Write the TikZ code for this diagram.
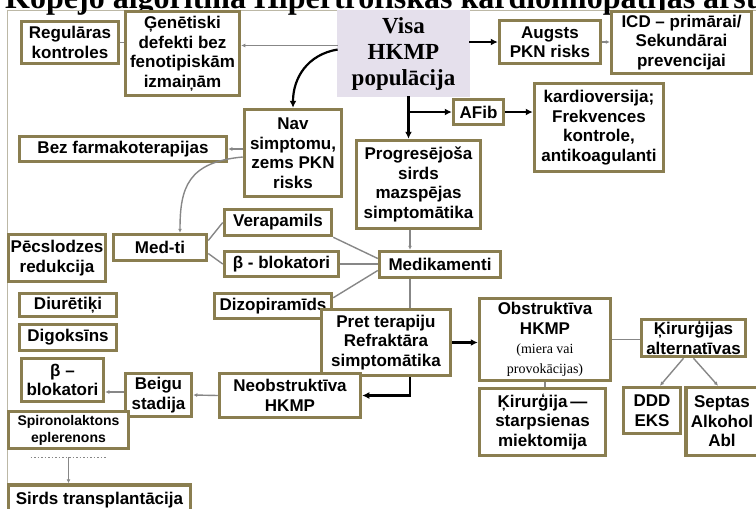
\documentclass[tikz,border=0pt]{standalone}
\usepackage{fontspec}
\setmainfont{Liberation Sans}
\newfontfamily\hkserif{Liberation Serif}
\usetikzlibrary{arrows.meta}
\definecolor{hkolive}{RGB}{138,126,80}
\definecolor{hklav}{RGB}{229,224,236}
\definecolor{hkframe}{RGB}{160,154,128}
\definecolor{hkline}{RGB}{135,135,135}
\newcommand{\hksmall}{\hkserif\mdseries\fontsize{14}{17}\selectfont}

\begin{document}
\begin{tikzpicture}[x=1pt,y=-1pt,
  box/.style={draw=hkolive,line width=3.5pt,fill=white,align=center,inner sep=1pt,
    font=\bfseries\fontsize{17}{19.5}\selectfont},
  visabox/.style={draw=hkframe,double=hklav,double distance=1.2pt,line width=0.8pt,
    fill=hklav,align=center,font=\hkserif\bfseries\fontsize{23}{26}\selectfont},
  greyline/.style={draw=hkline,line width=1.4pt},
  greyarrow/.style={greyline,-{Latex[length=4pt,width=4pt]}},
  blackarrow/.style={line width=2.2pt,-{Latex[length=7pt,width=7pt]}}]
  \useasboundingbox (0,0) rectangle (756,509);
  \clip (0,0) rectangle (756,509);
  \draw[hkframe!70,line width=0.6pt] (7,520) -- (7,10) -- (760,10);
  \node[anchor=base west,inner sep=0,font=\hkserif\bfseries\fontsize{32}{34}\selectfont] (title) at (5,8)
    {Kopējo algoritma Hipertrofiskās kardiomiopātijas ārst};

  \node[box,minimum width=97,minimum height=42] (reg) at (70,42.5) {Regulāras\\kontroles};
  \node[box,minimum width=114,minimum height=84] (gen) at (182.5,53.5) {Ģenētiski\\defekti bez\\fenotipiskām\\izmaiņām};
  \node[visabox,minimum width=131,minimum height=85] (visa) at (403.5,53.5) {Visa\\HKMP\\populācija};
  \node[box,minimum width=101,minimum height=43] (augsts) at (550,42) {Augsts\\PKN risks};
  \node[box,minimum width=140,minimum height=62] (icd) at (681.5,42.5) {ICD – primārai/\\Sekundārai\\prevencijai};
  \node[box,minimum width=97,minimum height=87] (nav) at (293,153) {Nav\\simptomu,\\zems PKN\\risks};
  \node[box,minimum width=207,minimum height=25] (bez) at (123,149) {Bez farmakoterapijas};
  \node[box,minimum width=50,minimum height=25] (afib) at (478.5,112) {AFib};
  \node[box,minimum width=129,minimum height=88] (kard) at (599,127.5) {kardioversija;\\Frekvences\\kontrole,\\antikoagulanti};
  \node[box,minimum width=124,minimum height=88] (prog) at (418.5,184.5) {Progresējoša\\sirds\\mazspējas\\simptomātika};
  \node[box,minimum width=121,minimum height=26] (medi) at (440,264.5) {Medikamenti};
  \node[box,minimum width=107,minimum height=26] (vera) at (278,222.5) {Verapamils};
  \node[box,minimum width=114,minimum height=25] (beta) at (281.5,264) {β - blokatori};
  \node[box,minimum width=93,minimum height=26] (medti) at (160,247.5) {Med-ti};
  \node[box,minimum width=97,minimum height=47] (pec) at (57,258) {Pēcslodzes\\redukcija};
  \node[box,minimum width=97,minimum height=23] (diur) at (68,305) {Diurētiķi};
  \node[box,minimum width=97,minimum height=26] (digo) at (68,337.5) {Digoksīns};
  \node[box,minimum width=117,minimum height=25] (dizo) at (273,306) {Dizopiramīds};
  \node[box,minimum width=129,minimum height=66] (pret) at (386,342.5) {Pret terapiju\\Refraktāra\\simptomātika};
  \node[box,minimum width=141,minimum height=44] (neob) at (290,395.5) {Neobstruktīva\\HKMP};
  \node[box,minimum width=66,minimum height=43] (beigu) at (158.5,395) {Beigu\\stadija};
  \node[box,minimum width=82,minimum height=43] (betal) at (62.5,380) {β –\\blokatori};
  \node[box,minimum width=120,minimum height=37,font=\bfseries\fontsize{14}{17}\selectfont] (spiro) at (68.5,430) {Spironolaktons\\eplerenons};
  \node[box,minimum width=182,minimum height=30] (sirds) at (99.5,500) {Sirds transplantācija};
  \node[box,minimum width=131,minimum height=82] (obst) at (545,339.5) {Obstruktīva\\HKMP\\{\hksmall (miera vai}\\{\hksmall provokācijas)}};
  \node[box,minimum width=126,minimum height=67] (kirurg) at (542.5,422) {Ķirurģija\,—\\starpsienas\\miektomija};
  \node[box,minimum width=104,minimum height=37] (alt) at (693.5,338) {Ķirurģijas\\alternatīvas};
  \node[box,minimum width=57,minimum height=46] (ddd) at (652,410.5) {DDD\\EKS};
  \node[box,minimum width=72,minimum height=68] (septas) at (722,421.5) {Septas\\Alkohol\\Abl};

  \coordinate (trunk) at ([xshift=5]visa.south);
  \coordinate (progout) at ([xshift=-8.5]prog.south);
  \coordinate (mediout) at ([xshift=-30]medi.south);
  \coordinate (beiguout) at ([yshift=3]beigu.west);
  \coordinate (dots) at ([yshift=-7]spiro.south);

  \draw[greyarrow] ([yshift=8]visa.west) -- ([yshift=8]gen.east);
  \draw[greyline] (reg.east) -- (reg.east -| gen.west);
  \draw[blackarrow] ([yshift=4]visa.west) .. controls +(-30,5) and +(0,-30) .. (nav.north);
  \draw[blackarrow] ([yshift=11.5]visa.east) -- (augsts.west);
  \draw[greyarrow] (augsts.east) -- (augsts.east -| icd.west);
  \draw[blackarrow] (trunk) -- (trunk |- prog.north);
  \draw[blackarrow] (trunk |- afib) -- (afib.west);
  \draw[blackarrow] (afib.east) -- (afib.east -| kard.west);
  \draw[greyarrow] ([yshift=4]nav.west) -- (bez.east);
  \draw[greyarrow] ([yshift=-4]nav.west) .. controls +(-55,5) and +(0,-45) .. ([xshift=20]medti.north);
  \draw[greyarrow] (progout) -- (progout |- medi.north);
  \draw[greyline] (vera.south east) -- ([yshift=6]medi.west);
  \draw[greyline] (beta.east) -- (beta.east -| medi.west);
  \draw[greyline] ([yshift=-6]dizo.north east) -- ([yshift=-6]medi.west);
  \draw[greyline] ([yshift=7]medti.east) -- (vera.west);
  \draw[greyline] ([yshift=-6]medti.east) -- (beta.west);
  \draw[greyline] (mediout) -- (mediout |- pret.north);
  \draw[blackarrow] (pret.east) -- (pret.east -| obst.west);
  \draw[blackarrow] ([xshift=24]pret.south) |- (neob.east);
  \draw[greyarrow] (neob.west) -- (beigu.east);
  \draw[greyarrow] (beiguout) -- (beiguout -| betal.east);
  \draw[greyline] (obst.east) -- (obst.east -| alt.west);
  \draw[greyline] (obst.south) -- (obst.south |- kirurg.north);
  \draw[greyarrow] ([xshift=-10]alt.south) -- ([xshift=8]ddd.north);
  \draw[greyarrow] (alt.south) -- ([xshift=-4]septas.north);
  \draw[hkline,dotted,line width=1.5pt] ([xshift=-38]dots) -- ([xshift=38]dots);
  \draw[greyarrow] (dots) -- (dots |- sirds.north);
\end{tikzpicture}
\end{document}
